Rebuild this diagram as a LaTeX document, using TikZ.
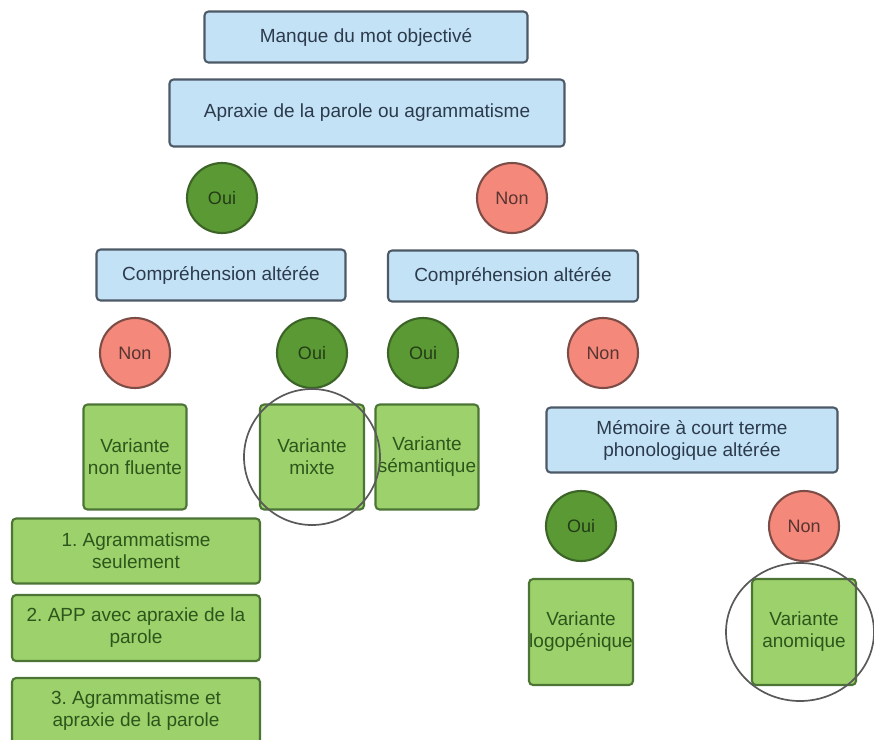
\documentclass[tikz,border=0pt]{standalone}
\usepackage{fontspec}
\setmainfont{Liberation Sans}
\frenchspacing
\definecolor{bleu}{HTML}{C4E2F6}
\definecolor{bleubord}{HTML}{4D5966}
\definecolor{bleutexte}{HTML}{2C3B4C}
\definecolor{vert}{HTML}{9CD16B}
\definecolor{vertbord}{HTML}{4C7535}
\definecolor{verttexte}{HTML}{2D561C}
\definecolor{oui}{HTML}{5A9934}
\definecolor{ouibord}{HTML}{3B6426}
\definecolor{non}{HTML}{F4887B}
\definecolor{nonbord}{HTML}{7C4C46}
\begin{document}
\begin{tikzpicture}[x=1pt,y=-1pt,line join=round,line width=2.1pt,
	font=\fontsize{19}{22}\selectfont,
	question/.style={draw=bleubord,fill=bleu,text=bleutexte,rounded corners=4pt,inner sep=0pt,align=center},
	variante/.style={draw=vertbord,fill=vert,text=verttexte,rounded corners=4pt,inner sep=0pt,align=center},
	oui/.style={circle,draw=ouibord,fill=oui,text=ouibord!60!black,minimum size=70pt,inner sep=0pt,font=\fontsize{18}{20}\selectfont},
	non/.style={circle,draw=nonbord,fill=non,text=nonbord!70!black,minimum size=70pt,inner sep=0pt,font=\fontsize{18}{20}\selectfont},
	repere/.style={draw=black!65,line width=1.7pt}]
	\useasboundingbox (0,0) rectangle (874,739);
	% questions
	\node[question,minimum width=323pt,minimum height=51pt] (manque) at (366,37) {Manque du mot objectivé};
	\node[question,minimum width=395pt,minimum height=67pt] (apraxie) at (367,113) {Apraxie de la parole ou agrammatisme};
	\node[oui] (oui1) at (222,198) {Oui};
	\node[non] (non1) at (512,198) {Non};
	\node[question,minimum width=249pt,minimum height=51pt] (compG) at (221,275) {Compréhension altérée};
	\node[question,minimum width=250pt,minimum height=51pt] (compD) at (513,276) {Compréhension altérée};
	\node[non] (nonG) at (135,353) {Non};
	\node[oui] (ouiG) at (312,353) {Oui};
	\node[oui] (ouiD) at (423,353) {Oui};
	\node[non] (nonD) at (603,353) {Non};
	% variantes
	\node[variante,minimum width=103pt,minimum height=105pt] (fluente) at (135,457) {Variante\\non fluente};
	\node[variante,minimum width=104pt,minimum height=105pt] (mixte) at (312,457) {Variante\\mixte};
	\node[variante,minimum width=103pt,minimum height=105pt] (semantique) at (427,457) {Variante\\sémantique};
	\node[question,minimum width=291pt,minimum height=65pt] (memoire) at (692,440) {Mémoire à court terme\\phonologique altérée};
	\node[oui] (ouiM) at (581,526) {Oui};
	\node[non] (nonM) at (804,526) {Non};
	\node[variante,minimum width=104pt,minimum height=106pt] (logo) at (581,632) {Variante\\logopénique};
	\node[variante,minimum width=104pt,minimum height=106pt] (anomique) at (804,632) {Variante\\anomique};
	% sous-types non fluents
	\node[variante,minimum width=248pt,minimum height=65pt] (type1) at (136,551) {1. Agrammatisme\\seulement};
	\node[variante,minimum width=248pt,minimum height=66pt] (type2) at (136,628) {2. APP avec apraxie de la\\parole};
	\node[variante,minimum width=248pt,minimum height=68pt,text depth=6pt] (type3) at (136,712) {3. Agrammatisme et\\apraxie de la parole};
	% cercles
	\draw[repere] (mixte.center) circle (68);
	\draw[repere] (anomique.center)++(-4,0) ellipse (74 and 69);
\end{tikzpicture}
\end{document}
